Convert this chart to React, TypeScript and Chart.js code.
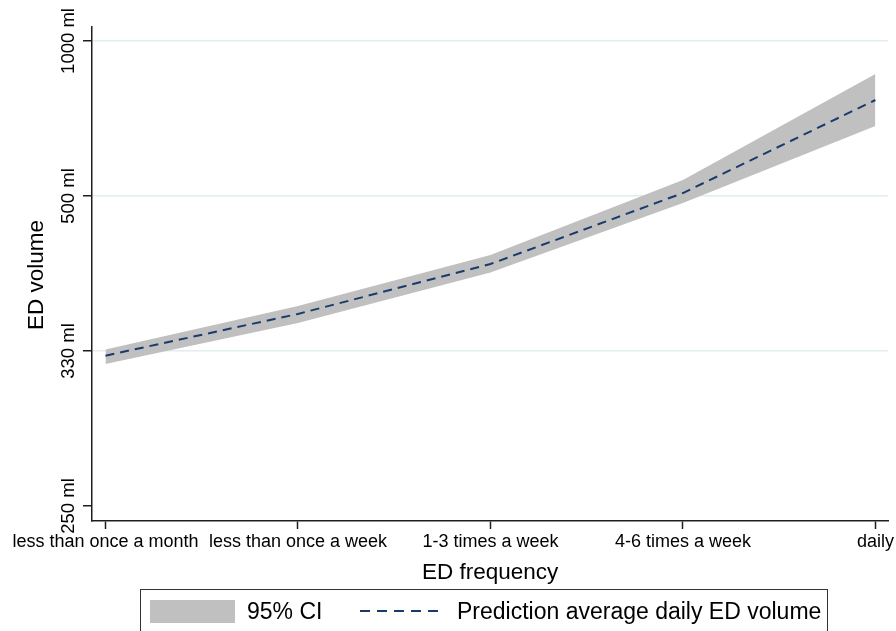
import React, { useEffect, useRef } from "react";
import { Chart, registerables } from "chart.js";

Chart.register(...registerables);

const categories = [
  "less than once a month",
  "less than once a week",
  "1-3 times a week",
  "4-6 times a week",
  "daily",
];
const prediction = [330.0, 362.2, 410.0, 504.8, 724.2];
const ciLower = [324.3, 354.7, 401.0, 489.0, 646.0];
const ciUpper = [334.4, 369.0, 420.0, 527.2, 824.5];

const yTickValues = [1000, 500, 333.333, 250];
const yTickLabels = ["1000 ml", "500 ml", "330 ml", "250 ml"];

const FONT = "'Liberation Sans', Arial, Helvetica, sans-serif";
const AXIS_COLOR = "#1e1e1e";
const GRID_COLOR = "#e2edf0";
const BAND_COLOR = "rgb(192,192,192)";
const LINE_COLOR = "#1a3a6c";

// reciprocal transform (Stata-style 1/x scale)
const tr = (v: number) => 1000 / v;

const textPlugin = {
  id: "customText",
  afterDraw(chart: any) {
    const ctx = chart.ctx as CanvasRenderingContext2D;
    const ys = chart.scales.y;
    const area = chart.chartArea;
    ctx.save();
    ctx.fillStyle = "#000";
    // y tick labels (rotated)
    ctx.font = `18.5px ${FONT}`;
    ctx.textAlign = "center";
    ctx.textBaseline = "alphabetic";
    yTickValues.forEach((v, i) => {
      const py = ys.getPixelForValue(tr(v));
      ctx.save();
      ctx.translate(74, py);
      ctx.rotate(-Math.PI / 2);
      ctx.fillText(yTickLabels[i], 0, 0);
      ctx.restore();
    });
    // y title
    ctx.font = `22.5px ${FONT}`;
    ctx.save();
    ctx.translate(43, (area.top + area.bottom) / 2 + 1);
    ctx.rotate(-Math.PI / 2);
    ctx.fillText("ED volume", 0, 0);
    ctx.restore();
    // x title
    ctx.fillText("ED frequency", (area.left + area.right) / 2, 579);

    // legend
    ctx.strokeStyle = "#333";
    ctx.lineWidth = 1;
    ctx.strokeRect(140.5, 589.5, 687, 60);
    ctx.fillStyle = BAND_COLOR;
    ctx.fillRect(150, 600, 85, 23);
    ctx.fillStyle = "#000";
    ctx.textAlign = "left";
    ctx.font = `23px ${FONT}`;
    ctx.fillText("95% CI", 247, 619);
    ctx.fillText("Prediction average daily ED volume", 457, 619);
    ctx.strokeStyle = LINE_COLOR;
    ctx.lineWidth = 2;
    ctx.setLineDash([10, 7]);
    ctx.beginPath();
    ctx.moveTo(360, 611);
    ctx.lineTo(440, 611);
    ctx.stroke();
    ctx.setLineDash([]);
    ctx.restore();
  },
};

export default function App() {
  const ref = useRef<HTMLCanvasElement | null>(null);

  useEffect(() => {
    if (!ref.current) return;
    const pts = (arr: number[]) => arr.map((v, i) => ({ x: i, y: tr(v) }));
    const chart = new Chart(ref.current, {
      type: "line",
      data: {
        datasets: [
          {
            label: "upper",
            data: pts(ciUpper),
            borderWidth: 0,
            borderColor: "rgba(0,0,0,0)",
            backgroundColor: BAND_COLOR,
            pointRadius: 0,
            fill: "+1",
            tension: 0,
            order: 2,
          },
          {
            label: "lower",
            data: pts(ciLower),
            borderWidth: 0,
            borderColor: "rgba(0,0,0,0)",
            backgroundColor: BAND_COLOR,
            pointRadius: 0,
            fill: false,
            tension: 0,
            order: 3,
          },
          {
            label: "Prediction average daily ED volume",
            data: pts(prediction),
            borderColor: LINE_COLOR,
            borderWidth: 2,
            borderDash: [9, 6],
            pointRadius: 0,
            fill: false,
            tension: 0,
            order: 0,
          },
        ],
      },
      options: {
        animation: false,
        responsive: false,
        events: [],
        layout: { padding: { top: 27, right: 6, left: 0, bottom: 0 } },
        plugins: {
          legend: { display: false },
          tooltip: { enabled: false },
          title: { display: false },
        },
        scales: {
          x: {
            type: "linear",
            min: -0.07,
            max: 4.067,
            afterBuildTicks: (scale: any) => {
              scale.ticks = categories.map((_, i) => ({ value: i }));
            },
            afterFit: (scale: any) => {
              scale.height = 110;
            },
            ticks: {
              autoSkip: false,
              maxRotation: 0,
              minRotation: 0,
              padding: 2,
              color: "#000",
              font: { family: FONT, size: 18 },
              callback: (v: any) => categories[Number(v)] ?? "",
            },
            grid: {
              drawOnChartArea: false,
              drawTicks: true,
              tickLength: 8,
              tickColor: AXIS_COLOR,
              tickWidth: 1.5,
            },
            border: { display: true, color: AXIS_COLOR, width: 1.5 },
          },
          y: {
            type: "linear",
            reverse: true,
            min: 0.9097,
            max: 4.097,
            afterBuildTicks: (scale: any) => {
              scale.ticks = yTickValues.map((v) => ({ value: tr(v) }));
            },
            afterFit: (scale: any) => {
              scale.width = 92;
            },
            ticks: { display: false },
            grid: {
              drawOnChartArea: true,
              drawTicks: true,
              tickLength: 9,
              tickColor: AXIS_COLOR,
              tickWidth: 1.5,
              lineWidth: 1.5,
              color: (c: any) =>
                c.tick && Math.abs(c.tick.value - tr(250)) < 1e-6
                  ? "rgba(0,0,0,0)"
                  : GRID_COLOR,
            },
            border: { display: true, color: AXIS_COLOR, width: 1.5 },
          },
        },
      },
      plugins: [textPlugin],
    });
    return () => chart.destroy();
  }, []);

  return (
    <div style={{ position: "absolute", left: 0, top: 0, width: 896, height: 631, background: "#fff" }}>
      <canvas ref={ref} width={896} height={631} style={{ width: 896, height: 631, display: "block" }} />
    </div>
  );
}
